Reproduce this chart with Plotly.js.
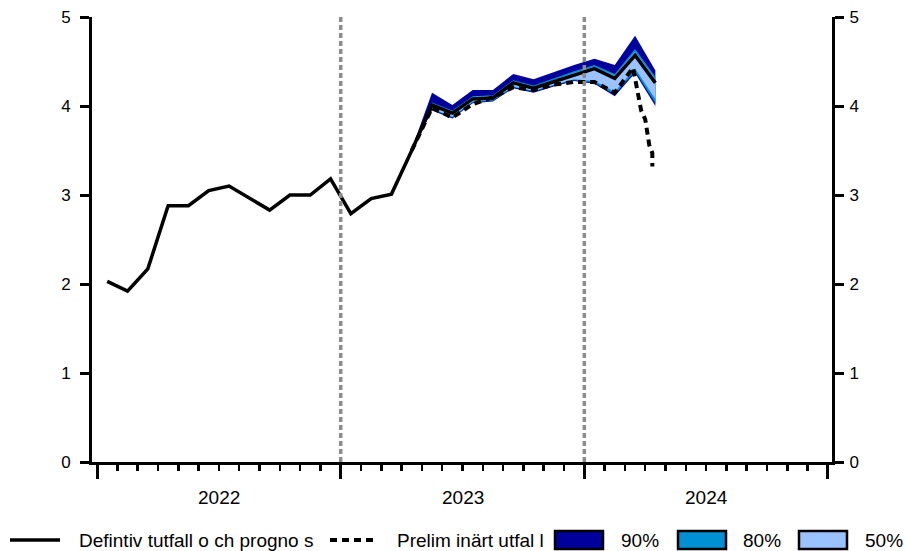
<!DOCTYPE html>
<html>
<head>
<meta charset="utf-8">
<script src="https://cdn.plot.ly/plotly-3.0.1.min.js"></script>
<style>html,body{margin:0;padding:0;background:#fff;}#chart{width:905px;height:551px;}</style>
</head>
<body>
<div id="chart"></div>
<script>
// ---- data ----
const months = ["2022-01","2022-02","2022-03","2022-04","2022-05","2022-06","2022-07","2022-08","2022-09","2022-10","2022-11","2022-12",
                "2023-01","2023-02","2023-03","2023-04","2023-05","2023-06","2023-07","2023-08","2023-09","2023-10","2023-11","2023-12",
                "2024-01","2024-02","2024-03","2024-04"];
const definitive = [2.03,1.92,2.17,2.88,2.88,3.05,3.10,2.97,2.83,3.00,3.00,3.18,
                    2.79,2.96,3.01,3.50,4.01,3.92,4.08,4.09,4.26,4.20,4.27,4.35,
                    4.42,4.31,4.57,4.26];
// fan months: 2023-04 .. 2024-04
const fanMonths = ["2023-04","2023-05","2023-06","2023-07","2023-08","2023-09","2023-10","2023-11","2023-12","2024-01","2024-02","2024-03","2024-04"];
const up90 = [3.52,4.15,4.01,4.18,4.18,4.36,4.30,4.38,4.46,4.53,4.46,4.79,4.40];
const up80 = [3.51,4.04,3.95,4.11,4.12,4.29,4.23,4.31,4.39,4.46,4.36,4.64,4.33];
const up50 = [3.50,4.03,3.94,4.10,4.11,4.28,4.22,4.29,4.37,4.44,4.34,4.61,4.30];
const lo50 = [3.50,3.97,3.88,4.05,4.07,4.22,4.17,4.24,4.30,4.28,4.16,4.42,4.08];
const lo80 = [3.50,3.96,3.87,4.04,4.06,4.21,4.16,4.23,4.29,4.26,4.13,4.39,4.03];
const lo90 = [3.50,3.95,3.86,4.03,4.05,4.20,4.15,4.22,4.28,4.25,4.11,4.37,4.00];
// preliminary outcome (month position, value)
const prelimX = [15.5,16.5,17.5,18.5,19.5,20.5,21.5,22.5,23.5,24.5,25.5,26.4,26.8,27.0,27.2,27.35,27.35];
const prelimY = [3.50,3.98,3.87,4.02,4.10,4.21,4.18,4.24,4.27,4.27,4.15,4.43,3.95,3.85,3.56,3.47,3.32];
const yearLabels = ["2022","2023","2024"];
const yTicks = [0,1,2,3,4,5];
const legendLabels = ["Defintiv tutfall o ch progno s","Prelim inärt utfal l","90%","80%","50%"];

// ---- styles ----
const C90 = "#00009C", C80 = "#0090D4", C50 = "#99C2FF";
const FAM = "Liberation Sans, Arial, sans-serif";
const TICKFONT = {family:FAM, size:17, color:"#000"};
const YEARFONT = {family:FAM, size:19, color:"#000"};
const LEGFONT = {family:FAM, size:19, color:"#000"};

// month label -> axis position (centre of month)
const mpos = m => { const [y,mo] = m.split("-").map(Number); return (y-2022)*12 + (mo-1) + 0.5; };
const xDef = months.map(mpos);
const xFan = fanMonths.map(mpos);

function band(up, lo, color, name){
  return {x: xFan.concat(xFan.slice().reverse()), y: up.concat(lo.slice().reverse()),
          type:"scatter", mode:"lines", fill:"toself", fillcolor:color,
          line:{width:0, color:color}, hoverinfo:"skip", name:name, showlegend:false};
}

const traces = [
  band(up90, lo90, C90, "90%"),
  band(up80, lo80, C80, "80%"),
  band(up50, lo50, C50, "50%"),
  {x:xDef, y:definitive, type:"scatter", mode:"lines", line:{color:"#000", width:3.5}, showlegend:false},
  {x:prelimX, y:prelimY, type:"scatter", mode:"lines", line:{color:"#000", width:4, dash:"7px,5px"}, showlegend:false},
  {x:[0], y:[0], yaxis:"y2", type:"scatter", mode:"markers", marker:{opacity:0}, showlegend:false, hoverinfo:"skip"}
];

// plot-area pixel helpers (plot area x 92..832, y 17..462)
const L=92, R=832, T=17, B=462;
const px = v => (v-L)/(R-L);
const py = v => (B-v)/(B-T);

const shapes = [
  {type:"line", xref:"x", yref:"y", x0:12, x1:12, y0:0, y1:5, line:{color:"#8C8C8C", width:3.5, dash:"5px,3px"}},
  {type:"line", xref:"x", yref:"y", x0:24, x1:24, y0:0, y1:5, line:{color:"#8C8C8C", width:3.5, dash:"5px,3px"}},
  // legend symbols
  {type:"line", xref:"paper", yref:"paper", x0:px(10), x1:px(60), y0:py(540), y1:py(540), line:{color:"#000", width:3.5}},
  {type:"line", xref:"paper", yref:"paper", x0:px(330), x1:px(377), y0:py(540), y1:py(540), line:{color:"#000", width:4, dash:"7px,5px"}},
  {type:"rect", xref:"paper", yref:"paper", x0:px(555), x1:px(603), y0:py(531), y1:py(549), fillcolor:C90, line:{color:"#000", width:2.5}},
  {type:"rect", xref:"paper", yref:"paper", x0:px(678), x1:px(726), y0:py(531), y1:py(549), fillcolor:C80, line:{color:"#000", width:2.5}},
  {type:"rect", xref:"paper", yref:"paper", x0:px(799), x1:px(847), y0:py(531), y1:py(549), fillcolor:C50, line:{color:"#000", width:2.5}}
];

const annotations = [];
yearLabels.forEach((t,i)=>annotations.push({x:i*12+6, xref:"x", y:py(497), yref:"paper", text:t, showarrow:false, font:YEARFONT, xanchor:"center", yanchor:"middle"}));
const legPos = [77, 395, 619, 741, 863];
legendLabels.forEach((t,i)=>annotations.push({x:px(legPos[i]), xref:"paper", y:py(540), yref:"paper", text:t, showarrow:false, font:LEGFONT, xanchor:"left", yanchor:"middle"}));

const yaxisBase = {range:[0,5], tickvals:yTicks, ticktext:yTicks.map(String), ticks:"outside", ticklen:9, tickwidth:3, tickcolor:"#000",
                   showline:true, linewidth:3, linecolor:"#000", showgrid:false, zeroline:false, tickfont:TICKFONT, fixedrange:true};

const layout = {
  width:905, height:551,
  margin:{l:L, r:905-R, t:T, b:551-B, pad:0},
  paper_bgcolor:"#fff", plot_bgcolor:"#fff",
  font:TICKFONT,
  showlegend:false,
  xaxis:{range:[-0.25,36.2], tickmode:"array", tickvals:[0,12,24,36], ticktext:["","","",""],
         ticks:"outside", ticklen:14, tickwidth:3, tickcolor:"#000",
         minor:{tickmode:"linear", tick0:0, dtick:1, ticks:"outside", ticklen:6, tickwidth:2.5, tickcolor:"#000"},
         showline:true, linewidth:3, linecolor:"#000", showgrid:false, zeroline:false, fixedrange:true},
  yaxis:Object.assign({}, yaxisBase, {side:"left", ticklabelstandoff:6}),
  yaxis2:Object.assign({}, yaxisBase, {side:"right", overlaying:"y", ticklabelstandoff:2}),
  shapes:shapes,
  annotations:annotations
};

Plotly.newPlot("chart", traces, layout, {staticPlot:true, displayModeBar:false});
</script>
</body>
</html>
